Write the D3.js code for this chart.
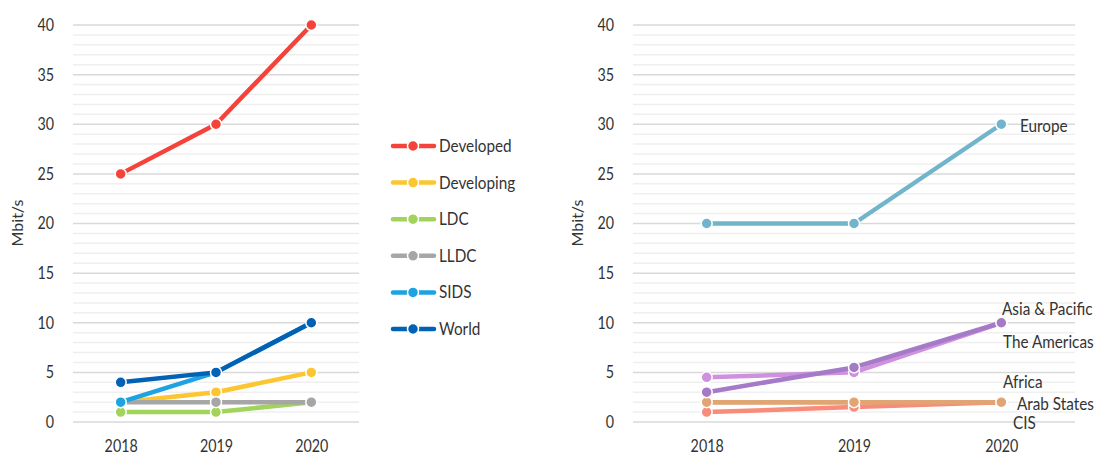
<!DOCTYPE html>
<html>
<head>
<meta charset="utf-8">
<script src="https://cdn.jsdelivr.net/npm/d3@7"></script>
<style>
  html, body { margin: 0; padding: 0; background: #fff; }
  svg { display: block; }
  text { font-family: Lato, "Open Sans", sans-serif; fill: #333; }
</style>
</head>
<body>
<svg id="chart" width="1094" height="456"></svg>
<script>
// Years on the x axis
const years = ["2018", "2019", "2020"];
// Y axis tick labels (Mbit/s)
const yTicks = [0, 5, 10, 15, 20, 25, 30, 35, 40];

// Development groups (left panel)
const groupNames = ["Developed", "Developing", "LDC", "LLDC", "SIDS", "World"];
const developed = [25, 30, 40];
const developing = [2, 3, 5];
const ldc = [1, 1, 2];
const lldc = [2, 2, 2];
const sids = [2, 5, 10];
const world = [4, 5, 10];
const groupColors = ["#f4433a", "#fcc631", "#a2d45b", "#a6a6a6", "#1da3e1", "#0061b5"];

// Regions (right panel)
const regionNames = ["Africa", "CIS", "Arab States", "The Americas", "Asia & Pacific", "Europe"];
const africa = [2, 2, 2];
const cis = [1, 1.5, 2];
const arabStates = [2, 2, 2];
const americas = [4.5, 5, 10];
const asiaPacific = [3, 5.5, 10];
const europe = [20, 20, 30];
const regionColors = ["#d99b6e", "#f98b7b", "#e0a572", "#cf90df", "#a57ac7", "#72b4cc"];

const FONT_SIZE = 17;
const SQUEEZE_NUM = 0.84; // horizontal condensing of numeric labels
const SQUEEZE_TXT = 0.9;  // horizontal condensing of word labels

const svg = d3.select("#chart");

// Narrow a text element horizontally while keeping its anchor point
function condense(sel, k) {
  sel.each(function () {
    const t = d3.select(this);
    const x = +t.attr("x") || 0;
    t.attr("x", x / k).attr("transform", `scale(${k},1)`);
  });
}

function panel(opts) {
  const g = svg.append("g");
  const x = d3.scalePoint().domain(years).range([opts.x0, opts.x1]).padding(0.5);
  const y = d3.scaleLinear().domain([0, 40]).range([422, 25]);

  // minor and major gridlines
  const minor = d3.range(0, 41, 1).filter(v => v % 5 !== 0);
  g.selectAll(".minor").data(minor).join("line")
    .attr("x1", opts.x0).attr("x2", opts.x1)
    .attr("y1", d => y(d)).attr("y2", d => y(d))
    .attr("stroke", "#efefef").attr("stroke-width", 1.5);
  g.selectAll(".major").data(yTicks).join("line")
    .attr("x1", opts.x0).attr("x2", opts.x1)
    .attr("y1", d => y(d)).attr("y2", d => y(d))
    .attr("stroke", "#d9d9d9").attr("stroke-width", 1.5);

  // y axis labels
  const yAxis = d3.axisLeft(y).tickValues(yTicks).tickSize(0).tickPadding(19);
  const ya = g.append("g").attr("transform", `translate(${opts.x0},0)`).call(yAxis);
  ya.select(".domain").remove();
  ya.selectAll("text").attr("font-size", FONT_SIZE).attr("fill", "#333")
    .style("font-family", 'Lato, "Open Sans", sans-serif').call(condense, SQUEEZE_NUM);

  // x axis labels
  const xAxis = d3.axisBottom(x).tickSize(0).tickPadding(12);
  const xa = g.append("g").attr("transform", "translate(0,428)").call(xAxis);
  xa.select(".domain").remove();
  xa.selectAll("text").attr("font-size", FONT_SIZE).attr("fill", "#333")
    .style("font-family", 'Lato, "Open Sans", sans-serif').call(condense, SQUEEZE_NUM);

  // y title
  g.append("text")
    .attr("transform", `translate(${opts.titleX},223) rotate(-90) scale(1,${SQUEEZE_TXT})`)
    .attr("text-anchor", "middle").attr("font-size", 16).text("Mbit/s");

  const line = d3.line().x((d, i) => x(years[i])).y(d => y(d));
  opts.series.forEach(s => {
    const sg = g.append("g");
    sg.append("path").datum(s.values)
      .attr("d", line).attr("fill", "none")
      .attr("stroke", s.color).attr("stroke-width", 4.5)
      .attr("stroke-linejoin", "round").attr("stroke-linecap", "round");
    sg.selectAll("circle").data(s.values).join("circle")
      .attr("cx", (d, i) => x(years[i])).attr("cy", d => y(d))
      .attr("r", 5.5).attr("fill", s.color)
      .attr("stroke", "#fff").attr("stroke-width", 1.5);
  });
  return { g, x, y };
}

// Left panel
panel({
  x0: 73, x1: 359, titleX: 23,
  series: [
    { values: developed, color: groupColors[0] },
    { values: developing, color: groupColors[1] },
    { values: ldc, color: groupColors[2] },
    { values: lldc, color: groupColors[3] },
    { values: sids, color: groupColors[4] },
    { values: world, color: groupColors[5] }
  ]
});

// Legend
const legend = svg.append("g");
groupNames.forEach((name, i) => {
  const ly = 146 + i * 36.6;
  const li = legend.append("g").attr("transform", `translate(0,${ly})`);
  li.append("line").attr("x1", 393).attr("x2", 434).attr("y1", 0).attr("y2", 0)
    .attr("stroke", groupColors[i]).attr("stroke-width", 4.5).attr("stroke-linecap", "round");
  li.append("circle").attr("cx", 413).attr("cy", 0).attr("r", 5.5)
    .attr("fill", groupColors[i]).attr("stroke", "#fff").attr("stroke-width", 1.5);
  li.append("text").attr("x", 439).attr("y", 0).attr("dy", "0.35em")
    .attr("font-size", FONT_SIZE).text(name).call(condense, SQUEEZE_TXT);
});

// Right panel
panel({
  x0: 633, x1: 1075, titleX: 583,
  series: [
    { values: africa, color: regionColors[0] },
    { values: cis, color: regionColors[1] },
    { values: arabStates, color: regionColors[2] },
    { values: americas, color: regionColors[3] },
    { values: asiaPacific, color: regionColors[4] },
    { values: europe, color: regionColors[5] }
  ]
});

// Direct labels beside the 2020 points
const labelPos = [
  { name: regionNames[5], x: 1020, y: 126 },
  { name: regionNames[4], x: 1002, y: 309 },
  { name: regionNames[3], x: 1003, y: 342 },
  { name: regionNames[0], x: 1003, y: 382 },
  { name: regionNames[2], x: 1017, y: 404 },
  { name: regionNames[1], x: 1013, y: 423 }
];
svg.append("g").selectAll("text").data(labelPos).join("text")
  .attr("x", d => d.x).attr("y", d => d.y).attr("dy", "0.35em")
  .attr("font-size", FONT_SIZE).text(d => d.name).call(condense, SQUEEZE_TXT);
</script>
</body>
</html>
